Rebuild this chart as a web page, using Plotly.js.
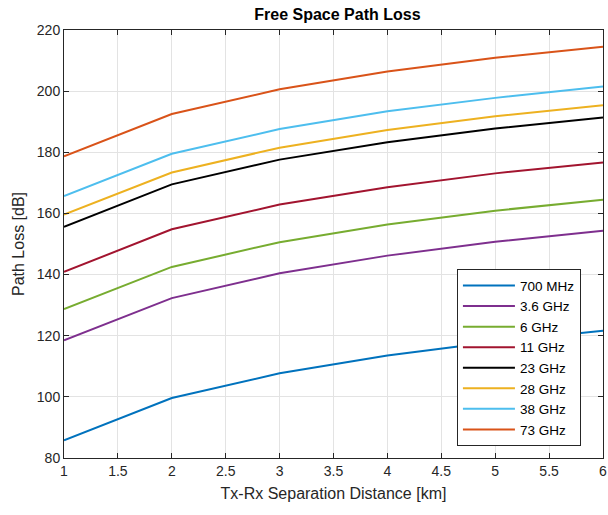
<!DOCTYPE html>
<html>
<head>
<meta charset="utf-8">
<script src="https://cdn.plot.ly/plotly-3.0.1.min.js"></script>
<style>html,body{margin:0;padding:0;background:#fff;}#chart{width:608px;height:515px;}</style>
</head>
<body>
<div id="chart"></div>
<script>
const distanceKm = [1, 2, 3, 4, 5, 6];
const seriesNames = ["700 MHz", "3.6 GHz", "6 GHz", "11 GHz", "23 GHz", "28 GHz", "38 GHz", "73 GHz"];
const loss700MHz = [85.8, 99.6, 107.7, 113.5, 118.0, 121.6];
const loss3p6GHz = [118.5, 132.3, 140.4, 146.2, 150.7, 154.3];
const loss6GHz   = [128.7, 142.5, 150.6, 156.4, 160.9, 164.5];
const loss11GHz  = [140.9, 154.8, 162.9, 168.6, 173.1, 176.7];
const loss23GHz  = [155.6, 169.5, 177.6, 183.3, 187.8, 191.4];
const loss28GHz  = [159.6, 173.4, 181.5, 187.3, 191.8, 195.4];
const loss38GHz  = [165.7, 179.5, 187.6, 193.4, 197.8, 201.5];
const loss73GHz  = [178.7, 192.5, 200.6, 206.4, 210.9, 214.5];
const xTicks = [1, 1.5, 2, 2.5, 3, 3.5, 4, 4.5, 5, 5.5, 6];
const yTicks = [80, 100, 120, 140, 160, 180, 200, 220];

const allSeries = [loss700MHz, loss3p6GHz, loss6GHz, loss11GHz, loss23GHz, loss28GHz, loss38GHz, loss73GHz];
const colors = ["#0072BD", "#7E2F8E", "#77AC30", "#A2142F", "#000000", "#EDB120", "#4DBEEE", "#D95319"];

const traces = allSeries.map((ys, i) => ({
  x: distanceKm, y: ys, name: seriesNames[i], type: "scatter", mode: "lines",
  line: {color: colors[i], width: 2}
}));

const fam = "Liberation Sans, Arial, sans-serif";
const axisCommon = {
  showline: true, mirror: "ticks", linecolor: "#262626", linewidth: 1,
  ticks: "inside", ticklen: 5, tickcolor: "#262626",
  showgrid: true, gridcolor: "#e3e3e3", gridwidth: 1, zeroline: false,
  tickfont: {family: fam, size: 14, color: "#262626"}
};

const layout = {
  width: 608, height: 515,
  margin: {l: 64, r: 5, t: 30, b: 57},
  paper_bgcolor: "#ffffff", plot_bgcolor: "#ffffff",
  title: {text: "<b>Free Space Path Loss</b>", x: 0.555, xanchor: "center", y: 0.972, yanchor: "middle",
          font: {family: fam, size: 16, color: "#000000"}},
  xaxis: Object.assign({}, axisCommon, {
    range: [1, 6], tickvals: xTicks, ticktext: xTicks.map(String),
    title: {text: "Tx-Rx Separation Distance [km]", standoff: 10,
            font: {family: fam, size: 16, color: "#262626"}}
  }),
  yaxis: Object.assign({}, axisCommon, {
    range: [80, 220], tickvals: yTicks, ticktext: yTicks.map(String),
    title: {text: "Path Loss [dB]", standoff: 8,
            font: {family: fam, size: 16, color: "#262626"}}
  }),
  legend: {
    x: 0.729, y: 0.441, xanchor: "left", yanchor: "top",
    bgcolor: "#ffffff", bordercolor: "#262626", borderwidth: 1,
    font: {family: fam, size: 13.5, color: "#000000"},
    itemwidth: 52,
    tracegroupgap: 0
  },
  showlegend: true
};

Plotly.newPlot("chart", traces, layout, {staticPlot: true, displayModeBar: false});
</script>
</body>
</html>
